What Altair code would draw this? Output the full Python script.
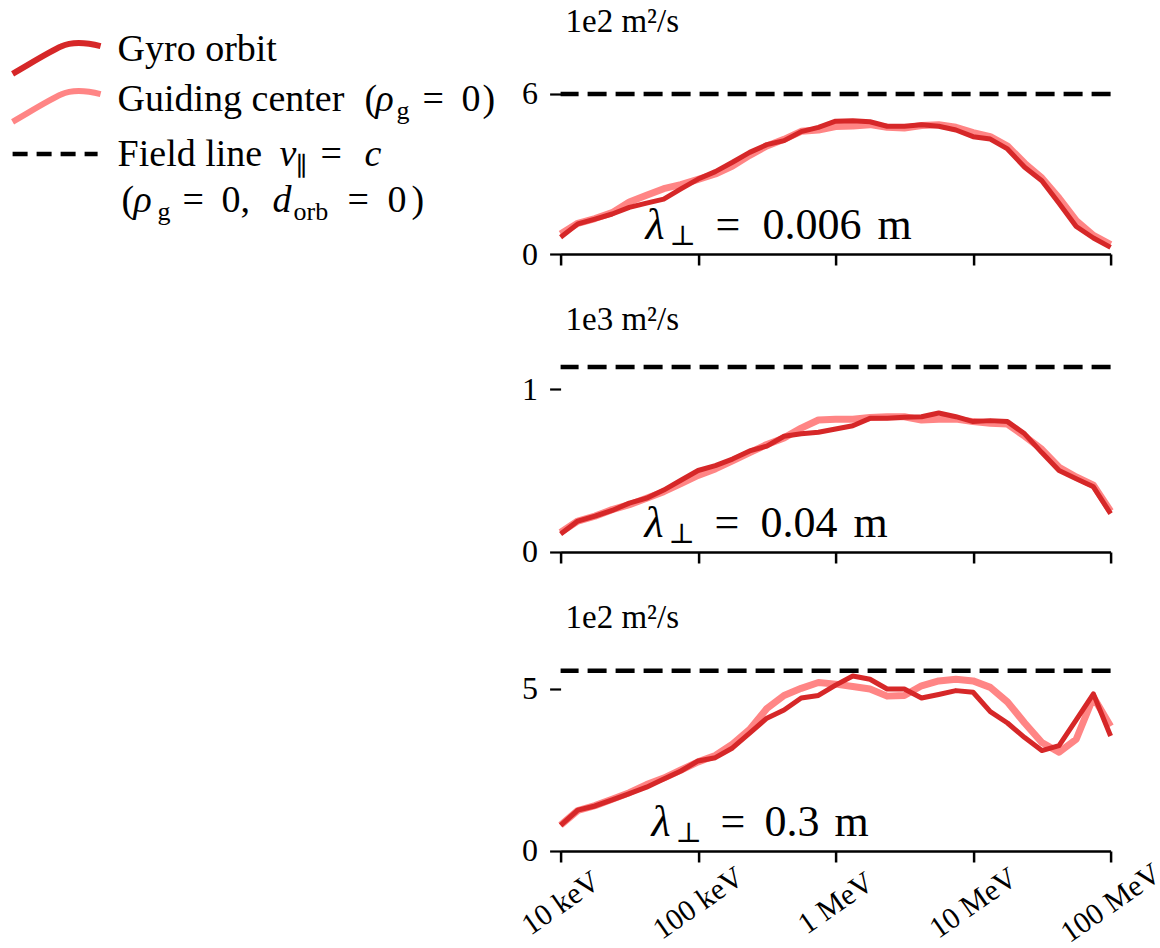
import altair as alt
import pandas as pd

# ---------------- data ----------------
ENERGY_KEV = [10, 13.34, 17.78, 23.71, 31.62, 42.17, 56.23, 74.99,
              100, 133.4, 177.8, 237.1, 316.2, 421.7, 562.3, 749.9,
              1000, 1334, 1778, 2371, 3162, 4217, 5623, 7499,
              10000, 13335, 17783, 23714, 31623, 42170, 56234, 74989, 100000]

# lambda_perp = 0.006 m  (x 1e2 m^2/s)
GYRO_A = [0.63, 1.13, 1.31, 1.50, 1.75, 1.91, 2.06, 2.44, 2.81, 3.09, 3.44,
          3.81, 4.10, 4.25, 4.59, 4.75, 4.98, 5.00, 4.96, 4.79, 4.79, 4.85,
          4.79, 4.65, 4.40, 4.31, 3.94, 3.25, 2.75, 1.90, 1.03, 0.60, 0.25]
GUIDE_A = [0.75, 1.15, 1.33, 1.55, 1.95, 2.20, 2.45, 2.60, 2.80, 3.00, 3.30,
           3.70, 4.05, 4.30, 4.60, 4.65, 4.78, 4.80, 4.85, 4.75, 4.72, 4.82,
           4.85, 4.75, 4.55, 4.40, 4.05, 3.40, 2.85, 2.10, 1.25, 0.70, 0.35]

# lambda_perp = 0.04 m  (x 1e3 m^2/s)
GYRO_B = [0.11, 0.19, 0.22, 0.255, 0.30, 0.33, 0.38, 0.44, 0.50, 0.53, 0.57,
          0.62, 0.65, 0.71, 0.725, 0.735, 0.755, 0.775, 0.82, 0.82, 0.826, 0.83,
          0.853, 0.83, 0.80, 0.806, 0.80, 0.725, 0.61, 0.50, 0.45, 0.40, 0.235]
GUIDE_B = [0.12, 0.19, 0.22, 0.26, 0.29, 0.33, 0.37, 0.42, 0.47, 0.51, 0.56,
           0.61, 0.66, 0.70, 0.76, 0.81, 0.815, 0.815, 0.825, 0.83, 0.83, 0.81,
           0.815, 0.815, 0.80, 0.79, 0.785, 0.71, 0.63, 0.52, 0.46, 0.41, 0.25]

# lambda_perp = 0.3 m  (x 1e2 m^2/s)
GYRO_C = [0.79, 1.26, 1.39, 1.58, 1.77, 1.97, 2.22, 2.47, 2.78, 2.88, 3.18,
          3.64, 4.10, 4.35, 4.72, 4.80, 5.12, 5.40, 5.30, 5.00, 5.00, 4.72,
          4.83, 4.95, 4.90, 4.30, 3.95, 3.50, 3.10, 3.25, 4.05, 4.85, 3.55]
GUIDE_C = [0.80, 1.25, 1.40, 1.60, 1.80, 2.05, 2.25, 2.50, 2.75, 2.95, 3.30,
           3.75, 4.40, 4.80, 5.02, 5.20, 5.15, 5.08, 5.00, 4.78, 4.80, 5.10,
           5.25, 5.30, 5.25, 5.05, 4.60, 3.95, 3.35, 3.05, 3.45, 4.75, 3.85]

GYRO = [GYRO_A, GYRO_B, GYRO_C]
GUIDE = [GUIDE_A, GUIDE_B, GUIDE_C]
FIELD_LINE = [6.0, 1.135, 5.56]
UNIT_LABELS = ["1e2 m²/s", "1e3 m²/s", "1e2 m²/s"]
LAMBDA_VALUES = ["0.006", "0.04", "0.3"]
Y_TICKS = [[0, 6], [0, 1], [0, 5]]
X_TICKS = [10, 100, 1000, 10000, 100000]
X_TICK_LABELS = ["10 keV", "100 keV", "1 MeV", "10 MeV", "100 MeV"]

# ---------------- style / layout ----------------
SERIF = "Liberation Serif"
MATH = "DejaVu Serif"
DARK = "#d62728"
LIGHT = "#ff8585"
W = 550
HEIGHTS = [210, 210, 211]
YMAX = [210 / 26.67, 210 / 163.0, 211 / 32.4]
OX, OY = 560, 45          # page position of first panel's plot origin
SPACING = 88

LABEL_EXPR = " : ".join(
    f"datum.value == {v} ? '{t}'" for v, t in zip(X_TICKS, X_TICK_LABELS)
) + " : ''"

ONE = pd.DataFrame({"k": [0]})


def text(s, x, y, size, italic=False, font=SERIF):
    return alt.Chart(ONE).mark_text(
        text=s, align="left", baseline="alphabetic", font=font,
        fontSize=size, fontStyle="italic" if italic else "normal",
        color="black",
    ).encode(x=alt.value(x), y=alt.value(y))


CURVE = "M-1,0.36 C-0.55,0.1 -0.15,-0.15 0.1,-0.26 C0.35,-0.38 0.65,-0.36 1,-0.27"


def curve(color, cy):
    return alt.Chart(ONE).mark_point(
        shape=CURVE, size=7744, filled=False, opacity=1, strokeWidth=6,
        color=color, strokeCap="butt",
    ).encode(x=alt.value(56 - OX), y=alt.value(cy - OY))


def legend_layers():
    L = []
    L.append(curve(DARK, 59))
    L.append(curve(LIGHT, 107))
    L.append(alt.Chart(ONE).mark_rule(color="black", strokeWidth=4.5,
                                      strokeDash=[15, 9]).encode(
        x=alt.value(12 - OX), x2=alt.value(97 - OX), y=alt.value(155 - OY)))
    big, sub = 38, 26
    pieces = [
        ("Gyro orbit", 117, 62, big, False, SERIF),
        ("Guiding center", 117, 112, big, False, SERIF),
        ("(", 364, 112, big, False, SERIF),
        ("ρ", 375, 112, big, True, SERIF),
        ("g", 396, 120, sub, False, SERIF),
        ("=", 422, 112, big, False, SERIF),
        ("0", 461, 112, big, False, SERIF),
        (")", 482, 112, big, False, SERIF),
        ("Field line", 117, 167, big, False, SERIF),
        ("v", 279, 167, big, True, SERIF),
        ("∥", 295, 176, sub, False, MATH),
        ("=", 320, 167, big, False, SERIF),
        ("c", 364, 167, big, True, SERIF),
        ("(", 121, 213, big, False, SERIF),
        ("ρ", 133, 213, big, True, SERIF),
        ("g", 157, 221, sub, False, SERIF),
        ("=", 182, 213, big, False, SERIF),
        ("0,", 221, 213, big, False, SERIF),
        ("d", 272, 213, big, True, SERIF),
        ("orb", 293, 221, sub, False, SERIF),
        ("=", 347, 213, big, False, SERIF),
        ("0", 387, 213, big, False, SERIF),
        (")", 411, 213, big, False, SERIF),
    ]
    for s, x, y, size, it, f in pieces:
        L.append(text(s, x - OX, y - OY, size, it, f))
    return L


LAMBDA_X = [(85, 109, 155, 202, 317), (84, 108, 154, 200, 293), (91, 115, 160, 204, 274)]


def panel(i, show_xlabels):
    h = HEIGHTS[i]
    xscale = alt.Scale(type="log", domain=[10, 100000], nice=False)
    yscale = alt.Scale(domain=[0, YMAX[i]], nice=False)
    xaxis = alt.Axis(
        values=X_TICKS, labels=show_xlabels, labelExpr=LABEL_EXPR,
        labelAngle=-35, labelAlign="center", labelBaseline="middle",
        labelPadding=41, labelFlush=False, labelOverlap=False,
        labelFont=SERIF, labelFontSize=30, labelColor="black",
        tickSize=11, tickWidth=2.5, tickColor="black",
        domainColor="black", domainWidth=2.5, grid=False, title=None,
    )
    yaxis = alt.Axis(
        values=Y_TICKS[i], format="d", domain=False, grid=False,
        tickSize=11, tickWidth=2.2, tickColor="black",
        labelFont=SERIF, labelFontSize=32, labelColor="black",
        labelPadding=12, title=None,
    )
    x = alt.X("E:Q", scale=xscale, axis=xaxis)
    y = alt.Y("D:Q", scale=yscale, axis=yaxis)

    field = alt.Chart(pd.DataFrame({"D": [FIELD_LINE[i]]})).mark_rule(
        color="black", strokeWidth=4.5, strokeDash=[19, 9]).encode(y=y)
    guide = alt.Chart(pd.DataFrame({"E": ENERGY_KEV, "D": GUIDE[i]})).mark_line(
        color=LIGHT, strokeWidth=7, strokeJoin="round").encode(x=x, y=y)
    gyro = alt.Chart(pd.DataFrame({"E": ENERGY_KEV, "D": GYRO[i]})).mark_line(
        color=DARK, strokeWidth=5, strokeJoin="round").encode(x=x, y=y)

    lx = LAMBDA_X[i]
    by = h - 15
    layers = [field, guide, gyro,
              text(UNIT_LABELS[i], 5, -12, 33),
              text("λ", lx[0], by, 44, True),
              text("⊥", lx[1], by + 6, 28, False, MATH),
              text("=", lx[2], by, 44),
              text(LAMBDA_VALUES[i], lx[3], by, 44),
              text("m", lx[4], by, 44)]
    if i == 0:
        layers += legend_layers()
    return alt.layer(*layers).properties(width=W, height=h)


chart = alt.vconcat(
    panel(0, False), panel(1, False), panel(2, True),
    spacing=SPACING, bounds="flush",
).properties(
    padding={"left": 0.6, "top": 6, "right": -8, "bottom": 0},
    background="white",
).configure_view(stroke=None)

chart.save("out.html", embed_options={"renderer": "svg", "actions": False})
